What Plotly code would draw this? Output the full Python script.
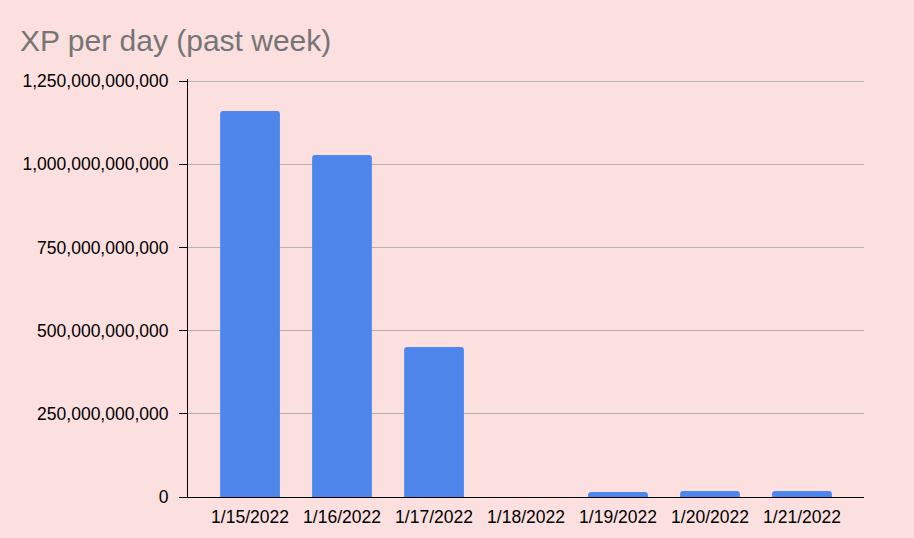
import plotly.graph_objects as go

dates = ["1/15/2022", "1/16/2022", "1/17/2022", "1/18/2022", "1/19/2022", "1/20/2022", "1/21/2022"]
xp = [1160e9, 1028e9, 451e9, 0, 15e9, 18e9, 18e9]
y_ticks = [0, 250e9, 500e9, 750e9, 1000e9, 1250e9]
y_labels = ["0", "250,000,000,000", "500,000,000,000", "750,000,000,000", "1,000,000,000,000", "1,250,000,000,000"]

bg = "#fcdfdf"
fig = go.Figure(go.Bar(x=list(range(len(dates))), y=xp, marker=dict(color="#4f86ec", line=dict(width=0)), width=0.65))
fig.update_layout(
    width=914, height=538,
    paper_bgcolor=bg, plot_bgcolor=bg,
    margin=dict(l=188, r=50, t=79, b=41),
    barcornerradius=3,
    font=dict(family="Liberation Sans, Arial", size=17.5, color="#000000"),
    title=dict(text="XP per day (past week)", x=20/914, xanchor="left", y=1-40/538, yanchor="middle",
               font=dict(size=30, color="#757575", family="Liberation Sans, Arial")),
    showlegend=False,
)
fig.update_xaxes(tickmode="array", tickvals=list(range(len(dates))), ticktext=dates,
                 range=[-0.674, 6.674], showgrid=False, showline=True, linecolor="#000000", linewidth=1,
                 ticks="", zeroline=False, tickfont=dict(size=17.5), ticklabelstandoff=4)
fig.update_yaxes(range=[0, 1256e9], tickmode="array", tickvals=y_ticks, ticktext=y_labels,
                 showgrid=True, gridcolor="#b9b0b0", gridwidth=1, showline=True, linecolor="#000000", linewidth=1,
                 ticks="outside", ticklen=8, tickcolor="#000000", zeroline=False, tickfont=dict(size=17.5),
                 ticklabelstandoff=7)
fig.write_html("out.html", config={"displayModeBar": False},
               post_script="document.body.style.margin='0';document.body.style.background='" + bg + "';")
